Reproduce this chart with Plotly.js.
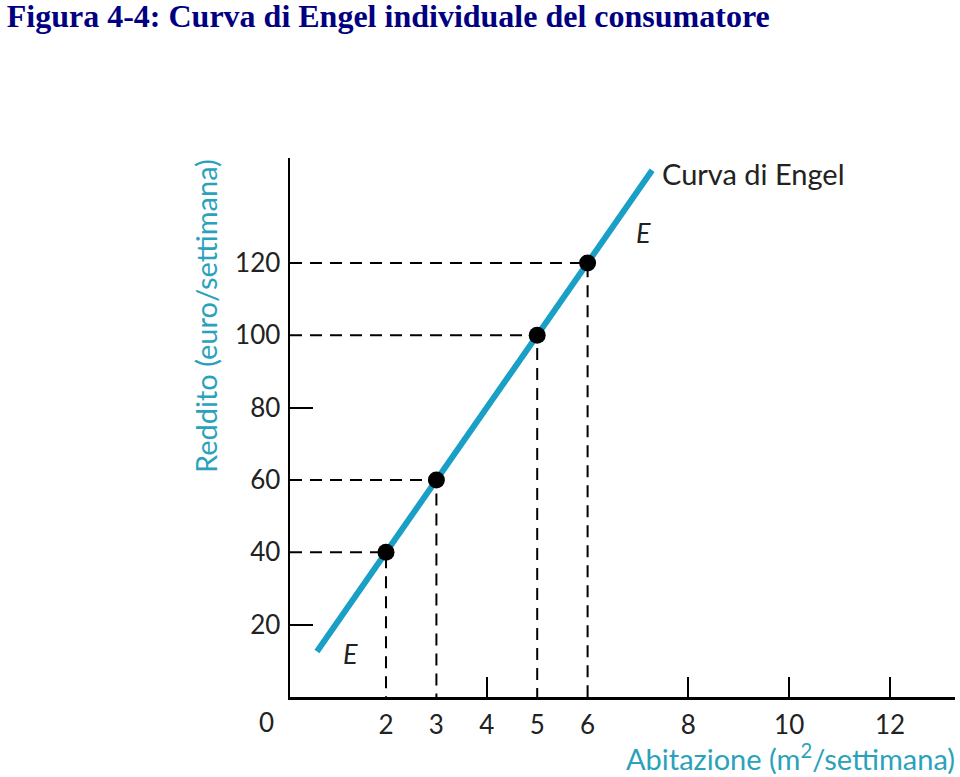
<!DOCTYPE html>
<html><head><meta charset="utf-8">
<script src="https://cdn.plot.ly/plotly-3.0.1.min.js"></script>
<style>body{margin:0;background:#fff}#chart{width:960px;height:777px}</style>
</head><body><div id="chart"></div>
<script>
// Data
const housing = [2, 3, 5, 6];            // m2/settimana
const income  = [40, 60, 100, 120];      // euro/settimana
const engelX  = [0.63, 7.28];            // Engel curve end points
const engelY  = [12.6, 145.6];
const xTickVals = [2, 3, 4, 5, 6, 8, 10, 12];
const xTickText = ['2', '3', '4', '5', '6', '8', '10', '12'];
const xSolidTicks = [4, 8, 10, 12];
const yTickVals = [20, 40, 60, 80, 100, 120];
const yTickText = ['20', '40', '60', '80', '100', '120'];
const ySolidTicks = [20, 80];
const originLabel = '0';

const xMin = 0.095, xMax = 13.29, yMin = 0, yMax = 149;
const teal = '#1a9fc6';
const labelTeal = '#2ba2bb';

// dashed guides built from the data points
const gx = [], gy = [];
housing.forEach((h, i) => {
  gx.push(xMin, h, h, null);
  gy.push(income[i], income[i], yMin, null);
});

const traces = [
  {x: gx, y: gy, mode: 'lines', line: {color: '#000', width: 2, dash: '12px,8px'}, hoverinfo: 'skip'},
  {x: engelX, y: engelY, mode: 'lines', line: {color: teal, width: 6}},
  {x: housing, y: income, mode: 'markers', marker: {color: '#000', size: 17}}
];

const sans = 'Lato, "Open Sans", sans-serif';
const tickFont = {family: sans, size: 26, color: '#222'};

const layout = {
  width: 960, height: 777,
  margin: {l: 290, r: 5, t: 158, b: 80},
  paper_bgcolor: '#fff', plot_bgcolor: '#fff',
  showlegend: false,
  xaxis: {
    range: [xMin, xMax], showgrid: false, zeroline: false,
    showline: true, linecolor: '#000', linewidth: 2.5,
    tickmode: 'array', tickvals: xTickVals, ticktext: xTickText,
    ticks: '', tickfont: tickFont, ticklabelstandoff: 3,
    minor: {tickmode: 'array', tickvals: xSolidTicks, ticks: 'inside', ticklen: 20, tickwidth: 2, tickcolor: '#000'}
  },
  yaxis: {
    range: [yMin, yMax], showgrid: false, zeroline: false,
    showline: true, linecolor: '#000', linewidth: 2.5,
    tickmode: 'array', tickvals: yTickVals, ticktext: yTickText,
    ticks: '', tickfont: tickFont, ticklabelstandoff: 2,
    minor: {tickmode: 'array', tickvals: ySolidTicks, ticks: 'inside', ticklen: 23, tickwidth: 2, tickcolor: '#000'}
  },
  title: {
    text: '<b>Figura 4-4: Curva di Engel individuale del consumatore</b>',
    font: {family: '"Liberation Serif", "Times New Roman", serif', size: 32, color: '#000080'},
    x: 0.007, xanchor: 'left', y: 0.994, yanchor: 'top'
  },
  annotations: [
    {text: originLabel, xref: 'paper', yref: 'paper', showarrow: false, xanchor: 'center', yanchor: 'middle', font: tickFont},
    {text: 'Curva di Engel', xref: 'paper', yref: 'paper', showarrow: false,
     font: {family: sans, size: 29, color: '#222'}, xanchor: 'left', yanchor: 'middle'},
    {text: '<i>E</i>', x: 7.1, y: 128.5, xref: 'x', yref: 'y', showarrow: false,
     font: {family: sans, size: 27, color: '#222'}},
    {text: '<i>E</i>', x: 1.29, y: 12, xref: 'x', yref: 'y', showarrow: false,
     font: {family: sans, size: 27, color: '#222'}},
    {text: 'Reddito (euro/settimana)', textangle: -90, xref: 'paper', yref: 'paper', showarrow: false,
     xanchor: 'center', yanchor: 'middle',
     font: {family: sans, size: 29, color: labelTeal}},
    {text: 'Abitazione (m<sup>2</sup>/settimana)', xref: 'paper', yref: 'paper', showarrow: false,
     xanchor: 'center', yanchor: 'middle',
     font: {family: sans, size: 29, color: labelTeal}}
  ]
};

// place paper-referenced labels using pixel positions converted to paper coords
const pw = 960 - 290 - 5, ph = 777 - 158 - 80;
function px2paperX(px) { return (px - 290) / pw; }
function px2paperY(py) { return (777 - 80 - py) / ph; }
layout.annotations[0].x = px2paperX(266); layout.annotations[0].y = px2paperY(722);
layout.annotations[1].x = px2paperX(660); layout.annotations[1].y = px2paperY(173);
layout.annotations[4].x = px2paperX(205); layout.annotations[4].y = px2paperY(316);
layout.annotations[5].x = px2paperX(790); layout.annotations[5].y = px2paperY(757);

Plotly.newPlot('chart', traces, layout, {displayModeBar: false, staticPlot: true});
</script>
</body></html>
